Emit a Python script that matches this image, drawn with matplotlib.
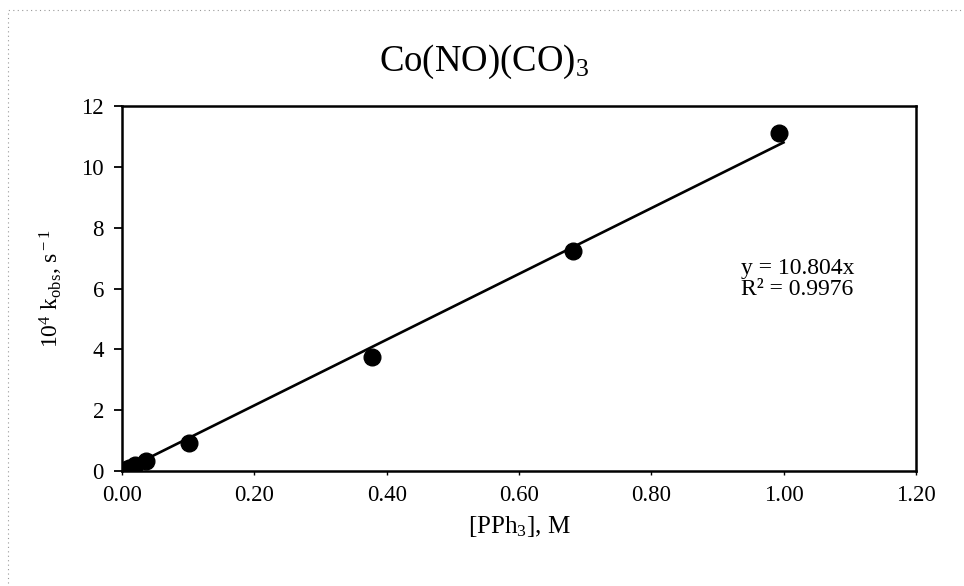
import matplotlib
matplotlib.use("Agg")
import matplotlib.pyplot as plt
from matplotlib.patches import Rectangle

# Observed rate constants vs. ligand concentration
pph3_conc = [0.005, 0.010, 0.020, 0.036, 0.101, 0.378, 0.682, 0.993]
k_obs = [0.05, 0.10, 0.20, 0.32, 0.92, 3.75, 7.25, 11.1]

# Linear fit through the origin
slope = 10.804
r_squared = 0.9976
fit_x = [0.0, 1.0]

x_ticks = [0.0, 0.2, 0.4, 0.6, 0.8, 1.0, 1.2]
x_tick_labels = ["0.00", "0.20", "0.40", "0.60", "0.80", "1.00", "1.20"]
y_ticks = [0, 2, 4, 6, 8, 10, 12]

plt.rcParams["font.family"] = ["Liberation Serif", "DejaVu Serif"]
plt.rcParams["mathtext.fontset"] = "custom"
plt.rcParams["mathtext.rm"] = "Liberation Serif"
plt.rcParams["mathtext.it"] = "Liberation Serif"

fig = plt.figure(figsize=(9.64, 5.86), dpi=100)
ax = fig.add_axes([0.1266, 0.196, 0.8234, 0.623])

ax.plot(fit_x, [slope * v for v in fit_x], color="black", lw=1.9, zorder=2)
ax.plot(pph3_conc, k_obs, "o", color="black", ms=12, zorder=3)

ax.set_xlim(0, 1.2)
ax.set_ylim(0, 12)
ax.set_xticks(x_ticks)
ax.set_xticklabels(x_tick_labels)
ax.set_yticks(y_ticks)
ax.tick_params(axis="y", direction="out", length=6, width=1.3, labelsize=16.5, pad=7)
ax.tick_params(axis="x", direction="out", length=3, width=1.0, labelsize=16.5, pad=7)
for s in ax.spines.values():
    s.set_linewidth(1.8)

fig.text(0.502, 0.894, r"Co(NO)(CO)$_3$", fontsize=26.5, ha="center", va="center")
ax.set_xlabel(r"[PPh$_3$], M", fontsize=18, labelpad=6)
ax.set_ylabel(r"10$^4$ k$_{\rm obs}$, s$^{\rm -1}$", fontsize=17, labelpad=12)

ax.text(0.935, 6.3, "y = %.3fx\nR² = %.4f" % (slope, r_squared),
        fontsize=17, ha="left", va="center", linespacing=1.0)

# faint dotted frame around the chart area
fig.patches.append(Rectangle((0.008, -0.01), 1.1, 0.993, transform=fig.transFigure,
                             fill=False, ls=(0, (1, 3)), lw=0.8, ec="#999999"))

fig.savefig("out.png", dpi=100)
